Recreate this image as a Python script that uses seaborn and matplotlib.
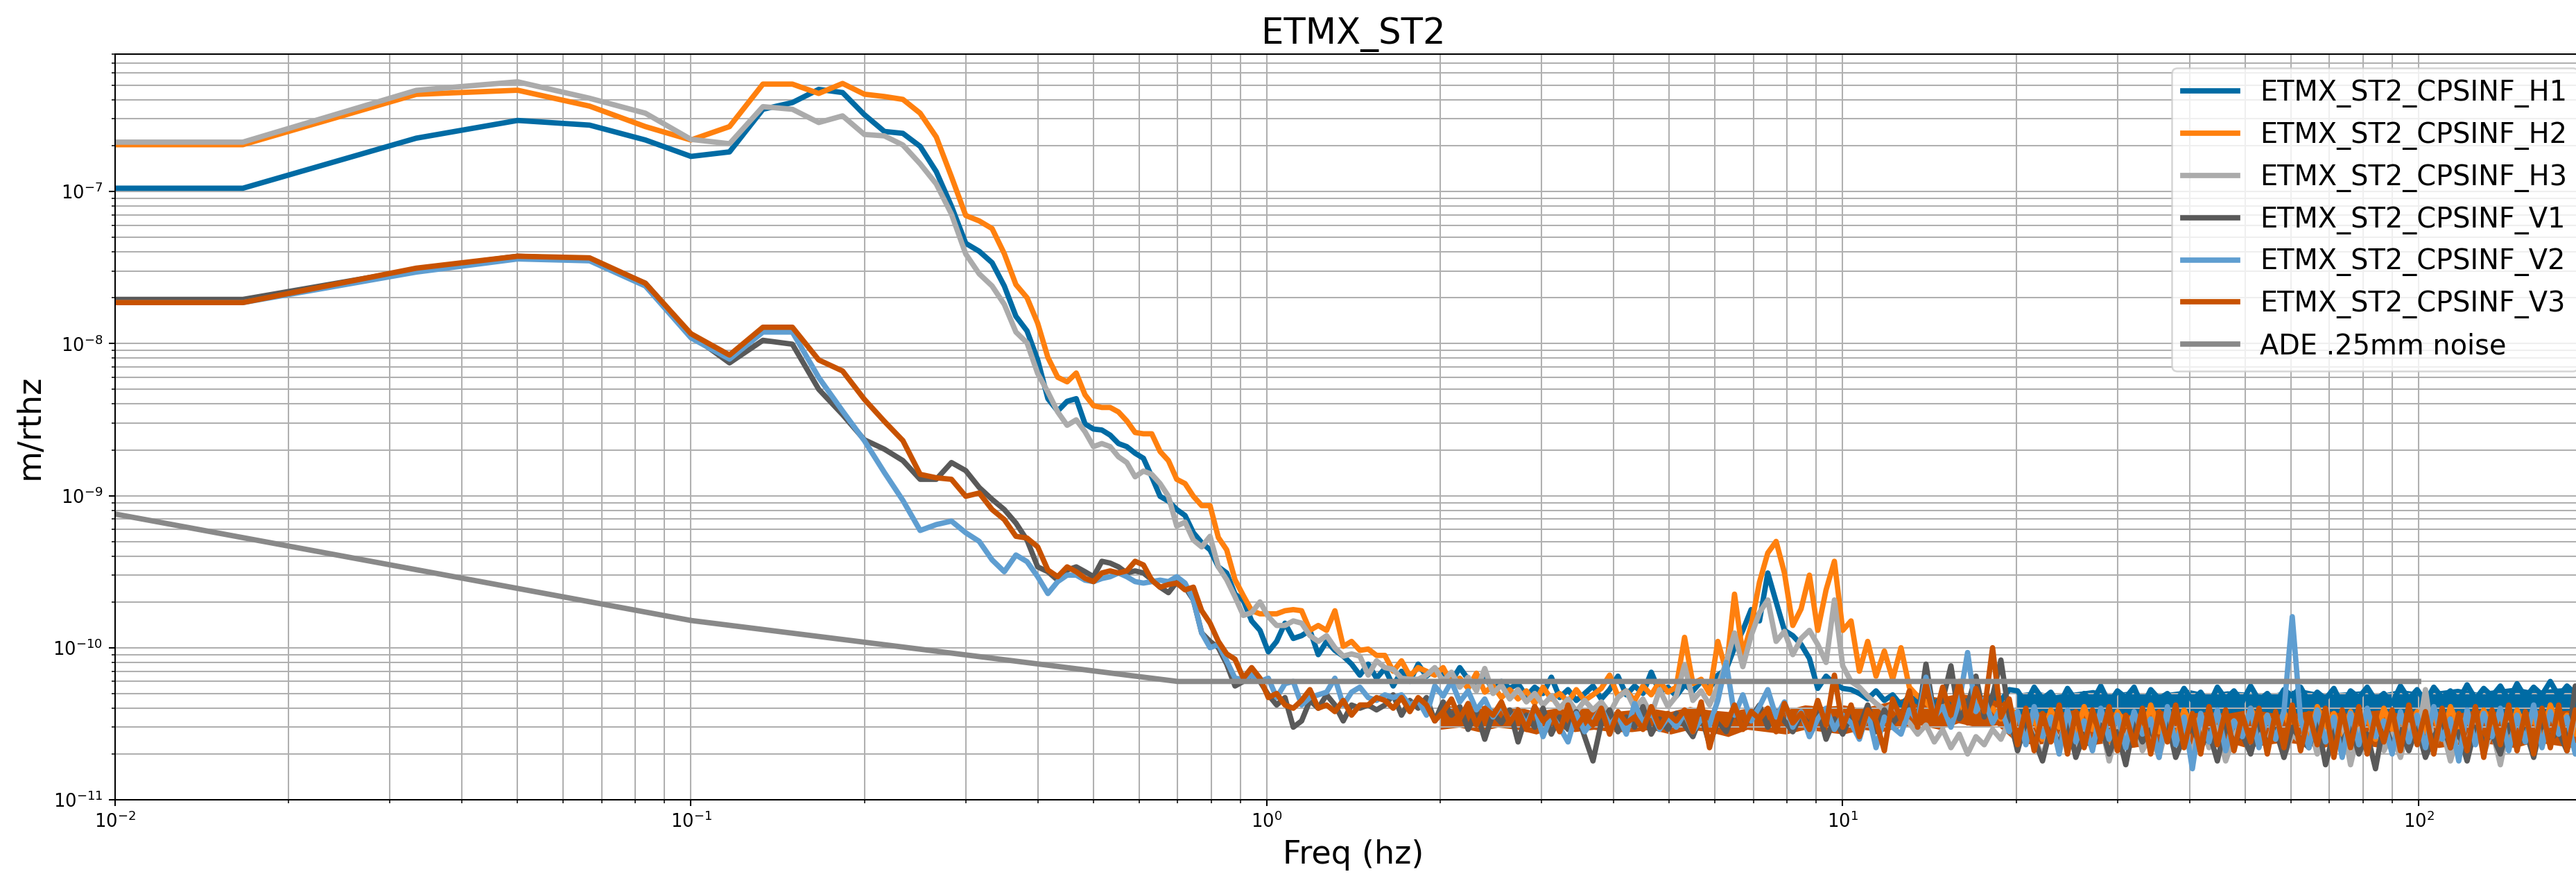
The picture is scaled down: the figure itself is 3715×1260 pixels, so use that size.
import numpy as np
import matplotlib
matplotlib.use("Agg")
import matplotlib.pyplot as plt
import seaborn as sns

# ---- data (ASD of the six ST2 CPS channels + ADE noise floor) ----
# low band: 1/60 Hz bins from DC up to 0.5 Hz
f_lo = np.arange(31) / 60.0
# upper band: log spaced frequencies 0.52 .. 200 Hz (values below in units of 1e-11)
f_hi = np.geomspace(0.5, 200, 181)[1:]
# envelope grid for the dense noise floor, 2 .. 200 Hz (units of 1e-11)
f_band = np.geomspace(2, 200, 61)

H1_lo = [1.05e-7, 1.05e-7, 2.24e-7, 2.93e-7, 2.73e-7, 2.18e-7, 1.70e-7, 1.82e-7, 3.47e-7, 3.84e-7,
         4.69e-7, 4.47e-7, 3.20e-7, 2.48e-7, 2.41e-7, 1.98e-7, 1.35e-7, 8.0e-8, 4.56e-8, 4.04e-8,
         3.4e-8, 2.39e-8, 1.51e-8, 1.21e-8, 7.8e-9, 4.34e-9, 3.6e-9, 4.17e-9, 4.34e-9, 2.96e-9, 2.74e-9]
H2_lo = [2.03e-7, 2.03e-7, 4.35e-7, 4.63e-7, 3.64e-7, 2.67e-7, 2.18e-7, 2.67e-7, 5.08e-7, 5.08e-7,
         4.41e-7, 5.13e-7, 4.36e-7, 4.21e-7, 4.03e-7, 3.27e-7, 2.28e-7, 1.25e-7, 6.95e-8, 6.4e-8,
         5.7e-8, 3.9e-8, 2.44e-8, 2.0e-8, 1.36e-8, 8.1e-9, 6.0e-9, 5.6e-9, 6.4e-9, 4.6e-9, 3.9e-9]
H3_lo = [2.11e-7, 2.11e-7, 4.62e-7, 5.26e-7, 4.1e-7, 3.27e-7, 2.20e-7, 2.06e-7, 3.61e-7, 3.47e-7,
         2.84e-7, 3.14e-7, 2.37e-7, 2.32e-7, 2.02e-7, 1.52e-7, 1.12e-7, 7.1e-8, 3.88e-8, 2.87e-8,
         2.39e-8, 1.81e-8, 1.19e-8, 1.01e-8, 6.35e-9, 4.8e-9, 3.55e-9, 2.9e-9, 3.15e-9, 2.63e-9, 2.1e-9]
V1_lo = [1.95e-8, 1.95e-8, 3.07e-8, 3.75e-8, 3.58e-8, 2.49e-8, 1.14e-8, 7.46e-9, 1.05e-8, 9.9e-9,
         5.0e-9, 3.41e-9, 2.33e-9, 2.02e-9, 1.70e-9, 1.28e-9, 1.28e-9, 1.65e-9, 1.46e-9, 1.13e-9,
         9.45e-10, 8.1e-10, 6.6e-10, 5.1e-10, 3.4e-10, 3.16e-10, 2.78e-10, 3.24e-10, 3.4e-10, 3.16e-10, 2.93e-10]
V2_lo = [1.86e-8, 1.86e-8, 2.95e-8, 3.6e-8, 3.5e-8, 2.39e-8, 1.09e-8, 7.9e-9, 1.19e-8, 1.19e-8,
         5.98e-9, 3.6e-9, 2.3e-9, 1.42e-9, 9.3e-10, 5.9e-10, 6.45e-10, 6.8e-10, 5.7e-10, 5.0e-10,
         3.78e-10, 3.16e-10, 4.07e-10, 3.68e-10, 2.93e-10, 2.27e-10, 2.72e-10, 3.0e-10, 3.0e-10, 2.78e-10, 2.72e-10]
V3_lo = [1.86e-8, 1.86e-8, 3.13e-8, 3.75e-8, 3.66e-8, 2.49e-8, 1.16e-8, 8.4e-9, 1.28e-8, 1.28e-8,
         7.8e-9, 6.6e-9, 4.3e-9, 3.08e-9, 2.3e-9, 1.38e-9, 1.31e-9, 1.28e-9, 9.9e-10, 1.04e-9,
         8.1e-10, 6.96e-10, 5.4e-10, 5.26e-10, 4.6e-10, 3.24e-10, 2.93e-10, 3.4e-10, 3.16e-10, 2.86e-10, 2.72e-10]

H1_hi = [270, 250, 220, 210, 190, 176, 133, 99, 92, 81,
         74, 57, 49, 44, 34, 31, 22.5, 20.5, 15, 13,
         9.4, 11, 14.5, 11.5, 12, 13, 9.0, 11, 9.6, 8.8,
         7.8, 6.6, 7.8, 6.3, 7.3, 5.6, 7.0, 6.0, 7.8, 6.5,
         7.2, 6.9, 6.0, 7.4, 6.2, 5.6, 6.6, 5.2, 6.0, 5.4,
         5.8, 4.8, 5.5, 5.0, 6.4, 4.7, 5.3, 4.5, 5.0, 5.6,
         4.6, 5.3, 6.5, 4.9, 5.6, 5.0, 6.9, 5.1, 5.5, 4.8,
         5.7, 5.2, 6.0, 5.4, 6.6, 7.2, 10.0, 13.0, 17.8, 15.0,
         31.0, 20.0, 13.0, 12.0, 10.5, 8.5, 5.4, 6.5, 5.8, 5.4,
         5.3, 5.0, 4.6, 5.2, 4.5, 4.9, 4.2, 4.8, 4.4, 5.0,
         4.3, 4.7, 4.1, 4.6, 4.4, 5.0, 4.2, 4.8, 4.5, 5.3,
         5.2, 4.3, 5.5, 4.6, 5.1, 4.2, 5.4, 4.5, 5.0, 4.4,
         5.6, 4.3, 5.2, 4.7, 5.5, 4.1, 5.3, 4.6, 5.0, 4.3,
         5.4, 4.5, 5.1, 4.2, 5.5, 4.6, 5.2, 4.4, 5.6, 4.5,
         5.0, 4.3, 5.3, 4.8, 5.5, 4.4, 5.1, 4.6, 5.4, 4.2,
         5.2, 4.7, 5.5, 4.5, 5.0, 4.3, 5.6, 4.6, 5.3, 4.4,
         5.5, 4.7, 5.2, 4.5, 5.7, 4.6, 5.4, 4.8, 5.6, 4.5,
         5.8, 4.7, 5.5, 4.9, 6.0, 4.8, 5.6, 5.0, 5.9, 4.9]
H2_hi = [380, 380, 355, 310, 260, 255, 255, 195, 170, 128,
         120, 99, 86, 86, 53, 44, 28, 22, 17.5, 16.7,
         16.7, 16.7, 17.5, 17.8, 17.5, 13, 14, 13, 17.5, 10.2,
         11, 9.6, 9.8, 8.9, 8.9, 7.0, 8.2, 6.5, 7.4, 7.0,
         6.6, 7.4, 5.8, 6.3, 5.4, 6.8, 5.1, 5.6, 4.7, 5.3,
         4.6, 5.2, 4.3, 5.5, 4.6, 5.0, 4.4, 5.3, 4.5, 4.9,
         5.4, 6.6, 4.8, 5.2, 4.5, 5.6, 4.9, 6.0, 5.1, 5.5,
         11.7, 5.8, 6.2, 5.0, 11.0, 7.0, 22.5, 9.0, 14.0, 27.0,
         42.0, 50.0, 31.0, 14.0, 18.0, 30.0, 13.0, 24.0, 37.0, 13.0,
         15.0, 7.0, 11.0, 6.5, 9.5, 6.2, 10.0, 5.5, 4.8, 4.4,
         3.8, 4.2, 3.6, 4.1, 3.5, 4.4, 3.7, 4.0, 3.4, 3.9,
         3.7, 2.8, 3.4, 2.5, 3.9, 3.0, 3.5, 2.6, 4.1, 2.9,
         3.3, 2.4, 3.8, 3.1, 3.6, 2.6, 4.2, 2.8, 3.4, 2.5,
         3.9, 3.0, 3.5, 2.4, 3.7, 2.9, 3.3, 2.6, 4.0, 3.1,
         3.6, 2.5, 3.8, 2.8, 3.4, 2.4, 4.1, 3.0, 3.7, 2.6,
         3.8, 2.7, 3.5, 2.5, 4.0, 2.9, 3.4, 2.6, 3.8, 2.8,
         3.6, 2.5, 4.1, 3.0, 3.5, 2.6, 3.9, 2.8, 3.7, 2.5,
         3.9, 2.9, 3.4, 2.6, 4.2, 3.0, 3.6, 2.7, 4.0, 2.9]
H3_hi = [220, 210, 180, 165, 133, 145, 138, 120, 99, 63,
         67, 51, 46, 54, 34, 28, 21.6, 16.3, 17, 20,
         16, 14, 14, 15, 14.5, 12, 11, 12, 10, 8.8,
         9.1, 8.8, 6.6, 8.2, 7.4, 7.2, 6.3, 6.2, 6.2, 6.6,
         7.4, 6.0, 6.9, 5.5, 6.4, 5.2, 7.3, 5.0, 5.7, 4.6,
         5.3, 4.4, 5.0, 4.2, 4.8, 4.0, 4.6, 3.8, 4.5, 3.9,
         4.4, 3.7, 4.7, 5.2, 4.0, 4.6, 3.6, 5.3, 4.1, 4.8,
         7.7, 4.5, 5.2, 4.2, 5.6, 8.0, 12.5, 7.5, 12.0, 17.0,
         20.6, 11.0, 12.8, 9.0, 11.5, 13.0, 10.5, 8.0, 20.6, 7.6,
         6.0, 5.5, 4.8, 4.3, 3.9, 4.2, 3.6, 3.2, 2.7, 3.1,
         2.4, 2.9, 2.2, 2.7, 2.0, 2.6, 2.3, 2.9, 2.5, 3.3,
         2.2, 3.4, 2.6, 1.9, 3.1, 2.4, 3.5, 2.0, 2.8, 2.3,
         3.3, 1.8, 2.9, 2.5, 3.6, 2.1, 2.7, 1.9, 3.2, 2.4,
         2.8, 2.0, 3.4, 2.2, 3.0, 1.8, 2.6, 3.3, 2.1, 2.9,
         2.3, 3.5, 1.9, 2.7, 2.4, 3.2, 2.0, 2.8, 2.2, 3.4,
         1.7, 2.9, 2.4, 3.3, 2.1, 2.7, 1.9, 3.1, 2.5, 5.3,
         2.2, 3.0, 1.8, 2.8, 2.4, 3.4, 2.0, 2.9, 1.7, 3.2,
         2.3, 2.8, 2.0, 3.3, 2.5, 2.9, 2.1, 3.5, 2.4, 3.0]
V1_hi = [37, 36, 34, 31, 32, 31, 28, 25, 23, 27,
         25, 20.6, 12.5, 11, 10, 7.8, 5.6, 6.0, 6.6, 6.0,
         4.9, 4.2, 4.7, 3.0, 3.3, 4.5, 4.0, 4.9, 4.2, 3.3,
         4.2, 4.0, 4.2, 3.9, 4.2, 4.9, 3.6, 4.5, 4.0, 4.7,
         3.3, 4.4, 3.6, 4.1, 2.9, 3.8, 2.5, 3.7, 3.2, 3.9,
         2.4, 3.6, 3.0, 4.0, 2.7, 3.5, 2.9, 3.8, 2.6, 1.8,
         3.2, 3.9, 2.8, 3.5, 3.0, 4.1, 2.7, 3.4, 2.9, 3.7,
         3.1, 2.6, 3.6, 2.3, 3.3, 2.8, 3.9, 3.0, 3.5, 4.2,
         3.0, 3.8, 3.3, 2.8, 3.6, 3.1, 4.0, 2.5, 3.4, 2.7,
         3.6, 3.0, 4.2, 2.8, 3.9, 3.2, 3.7, 4.4, 3.3, 7.8,
         3.6, 4.5, 7.6, 3.4, 4.2, 6.5, 3.5, 4.8, 8.3, 3.6,
         2.1, 3.3, 2.5, 1.8, 3.0, 2.3, 3.4, 1.9, 2.7, 2.2,
         3.1, 2.0, 2.8, 1.7, 3.2, 2.4, 2.9, 2.1, 3.3, 1.9,
         2.6, 3.0, 2.2, 2.8, 1.8, 3.1, 2.4, 2.7, 2.0, 3.2,
         2.3, 2.9, 1.9, 3.0, 2.5, 2.2, 3.3, 1.7, 2.8, 2.4,
         3.1, 2.0, 2.7, 1.6, 3.2, 2.3, 2.9, 2.1, 3.0, 1.9,
         2.6, 3.2, 2.2, 2.8, 1.8, 3.0, 2.4, 2.7, 2.0, 3.1,
         2.2, 2.9, 1.9, 3.3, 2.5, 2.8, 2.1, 5.6, 2.4, 3.0]
V2_hi = [28.5, 29.3, 31, 29.3, 27.2, 26.6, 27.2, 27.8, 27.2, 29.3,
         26.6, 20.6, 12.5, 10, 10.5, 8.2, 6.3, 6.2, 6.6, 6.0,
         6.3, 4.7, 5.8, 6.0, 4.2, 4.7, 4.9, 5.1, 6.3, 4.2,
         5.1, 5.5, 4.7, 4.5, 4.9, 4.7, 4.9, 4.2, 4.5, 3.6,
         5.6, 4.8, 6.0, 4.4, 5.2, 3.9, 4.6, 3.5, 4.2, 3.3,
         3.9, 3.1, 4.1, 2.6, 3.6, 3.0, 2.4, 3.7, 2.8, 3.3,
         4.0, 3.1, 3.6, 2.7, 4.3, 3.2, 3.8, 2.9, 3.5, 3.0,
         3.7, 2.8, 3.4, 3.1, 4.5, 8.0, 3.6, 4.9, 3.3, 4.1,
         5.3, 3.5, 4.4, 3.0, 3.8, 2.6, 3.4, 4.0, 2.9, 3.6,
         3.2, 2.5, 3.8, 2.2, 3.5, 3.0, 2.7, 3.9, 3.3, 6.4,
         3.5, 4.1, 3.0, 4.4, 9.3, 3.8, 4.6, 3.2, 4.0, 2.8,
         3.8, 2.3, 4.1, 2.6, 3.5, 2.0, 3.9, 2.4, 3.3, 2.1,
         4.0, 2.5, 3.6, 2.2, 3.8, 2.7, 3.4, 1.9, 4.1, 2.3,
         3.5, 1.6, 3.7, 2.4, 3.9, 2.1, 3.3, 2.6, 4.0, 2.2,
         3.6, 2.5, 3.8, 16.0, 3.4, 2.2, 3.9, 2.4, 3.5, 1.9,
         3.7, 2.3, 4.0, 2.6, 3.3, 2.0, 3.8, 2.4, 3.6, 2.2,
         4.1, 2.5, 3.4, 1.8, 3.9, 2.3, 3.7, 2.6, 4.0, 2.1,
         3.6, 2.4, 4.2, 2.2, 3.8, 2.7, 3.5, 2.0, 4.1, 2.5]
V3_hi = [31, 32, 31, 32, 37, 35, 27.8, 25, 26, 26.6,
         24, 25, 17.5, 14.5, 11, 9.1, 8.4, 6.3, 7.4, 6.3,
         4.7, 5.0, 4.2, 4.0, 4.5, 5.3, 4.0, 4.2, 3.8, 4.5,
         3.6, 4.2, 4.2, 4.7, 4.5, 4.0, 4.7, 3.8, 4.7, 4.2,
         3.3, 3.8, 4.6, 3.4, 4.3, 3.1, 4.0, 3.6, 4.4, 3.2,
         3.9, 2.9, 4.1, 3.3, 3.7, 2.8, 4.2, 3.0, 3.6, 3.1,
         4.0, 2.7, 3.8, 3.2, 3.5, 2.9, 4.1, 3.0, 3.7, 3.3,
         3.9, 2.8, 4.4, 2.2, 3.6, 3.1, 4.2, 2.9, 3.8, 3.4,
         4.0, 2.8, 4.3, 3.2, 3.7, 2.9, 4.5, 3.1, 6.6, 3.0,
         4.2, 2.6, 3.9, 3.3, 2.1, 4.6, 3.4, 5.2, 3.0, 5.8,
         3.3, 5.5, 3.6, 6.0, 3.2, 5.4, 3.8, 10.0, 3.5, 4.6,
         2.3, 4.0, 2.1, 3.7, 2.4, 4.2, 2.0, 3.8, 2.2, 3.9,
         2.5, 4.1, 2.1, 3.6, 2.3, 4.0, 2.0, 3.8, 2.4, 4.2,
         2.2, 3.7, 2.0, 4.1, 2.3, 3.9, 2.1, 3.6, 2.4, 4.0,
         2.0, 3.8, 2.2, 4.2, 2.1, 3.7, 2.3, 4.0, 1.9, 3.9,
         2.2, 4.1, 2.0, 3.6, 2.4, 3.9, 2.1, 4.2, 2.3, 3.8,
         2.0, 4.0, 2.2, 3.7, 2.1, 4.1, 1.9, 3.9, 2.3, 4.2,
         2.1, 3.8, 2.0, 4.0, 2.2, 4.2, 2.1, 3.9, 2.3, 4.1]

# dense noise floor envelopes (lower / upper edge of the trace), units of 1e-11
V3_band_lo = [2.9, 3.0, 2.8, 3.0, 2.9, 2.7, 3.0, 2.8, 2.9, 2.8,
              2.8, 2.9, 2.7, 2.9, 2.8, 2.6, 2.9, 2.8, 2.7, 2.9,
              2.8, 2.7, 2.9, 2.8, 3.0, 3.1, 2.9, 3.2, 3.0, 3.1,
              2.4, 2.3, 2.4, 2.2, 2.3, 2.4, 2.2, 2.3, 2.4, 2.3,
              2.3, 2.4, 2.2, 2.3, 2.4, 2.3, 2.2, 2.4, 2.3, 2.2,
              2.3, 2.4, 2.2, 2.3, 2.4, 2.3, 2.2, 2.4, 2.3, 2.2, 2.3]
V3_band_hi = [4.3, 4.0, 4.2, 3.9, 4.1, 3.8, 4.0, 3.9, 4.1, 3.8,
              3.9, 4.0, 3.8, 4.1, 3.9, 3.8, 4.0, 4.1, 3.9, 4.2,
              4.1, 4.2, 4.0, 4.3, 4.6, 4.9, 4.7, 5.0, 4.8, 5.1,
              3.6, 3.8, 3.7, 3.9, 3.7, 3.8, 3.6, 3.9, 3.8, 3.7,
              3.8, 3.7, 3.9, 3.8, 3.6, 3.8, 3.9, 3.7, 3.8, 3.9,
              3.7, 3.9, 3.8, 3.7, 3.9, 3.8, 3.6, 3.9, 3.8, 3.9, 3.8]
H1_band_lo = [3.6, 3.7, 3.6, 3.5, 3.7, 3.6, 3.5, 3.7, 3.6, 3.6,
              3.7, 3.6, 3.5, 3.7, 3.6, 3.6, 3.7, 3.5, 3.6, 3.7,
              3.6, 3.5, 3.7, 3.6, 3.6, 3.7, 3.6, 3.5, 3.7, 3.6, 3.6]
H1_band_hi = [5.0, 5.2, 4.9, 5.1, 5.3, 5.0, 5.2, 4.9, 5.1, 5.3,
              5.0, 5.2, 5.1, 4.9, 5.2, 5.3, 5.0, 5.1, 5.2, 5.0,
              5.3, 5.1, 5.2, 5.4, 5.1, 5.3, 5.5, 5.2, 5.4, 5.5, 5.3]

ADE_f = [0.01, 0.1, 0.7, 100]
ADE_v = [7.57e-10, 1.51e-10, 6.0e-11, 6.0e-11]

channels = ["ETMX_ST2_CPSINF_H1", "ETMX_ST2_CPSINF_H2", "ETMX_ST2_CPSINF_H3",
            "ETMX_ST2_CPSINF_V1", "ETMX_ST2_CPSINF_V2", "ETMX_ST2_CPSINF_V3"]
lo_data = [H1_lo, H2_lo, H3_lo, V1_lo, V2_lo, V3_lo]
hi_data = [H1_hi, H2_hi, H3_hi, V1_hi, V2_hi, V3_hi]
bands = {0: (f_band[30:], H1_band_lo, H1_band_hi),
         5: (f_band, V3_band_lo, V3_band_hi)}

# tableau-colorblind10 colours
palette = sns.color_palette(["#006BA4", "#FF800E", "#ABABAB", "#595959",
                             "#5F9ED1", "#C85200", "#898989"])

DPI = 185
fig = plt.figure(figsize=(3715 / DPI, 1260 / DPI), dpi=DPI)
ax = fig.add_axes([166 / 3715, 1 - 1153 / 1260, (3738 - 166) / 3715, (1153 - 78) / 1260])


def draw_band(f, lo, hi, color):
    # min/max of the trace at each frequency -> filled band (seaborn errorbar)
    xs = np.concatenate([f, f])
    ys = np.concatenate([np.array(lo), np.array(hi)]) * 1e-11
    sns.lineplot(x=xs, y=ys, ax=ax, color=color, estimator="mean",
                 errorbar=("pi", 100), linewidth=0, legend=False,
                 err_kws={"alpha": 1, "linewidth": 0})


freq = np.concatenate([f_lo, f_hi])
for i, name in enumerate(channels):
    if i in bands:
        draw_band(*bands[i], palette[i])
    asd = np.concatenate([np.array(lo_data[i]), np.array(hi_data[i]) * 1e-11])
    sns.lineplot(x=freq, y=asd, ax=ax, color=palette[i], linewidth=3,
                 label=name, estimator=None, sort=False)
sns.lineplot(x=ADE_f, y=ADE_v, ax=ax, color=palette[6], linewidth=3,
             label="ADE .25mm noise", estimator=None, sort=False)

ax.set_xscale("log")
ax.set_yscale("log")
ax.set_xlim(1e-2, 200)
ax.set_ylim(1e-11, 8e-7)
ax.grid(True, which="both")
ax.tick_params(labelsize=10)

ax.set_title("ETMX_ST2", fontsize=20)
ax.set_xlabel("Freq (hz)", fontsize=18)
ax.set_ylabel("m/rthz", fontsize=18)
ax.legend(loc="upper right", fontsize=15.5)

fig.savefig("out.png", dpi=DPI)
